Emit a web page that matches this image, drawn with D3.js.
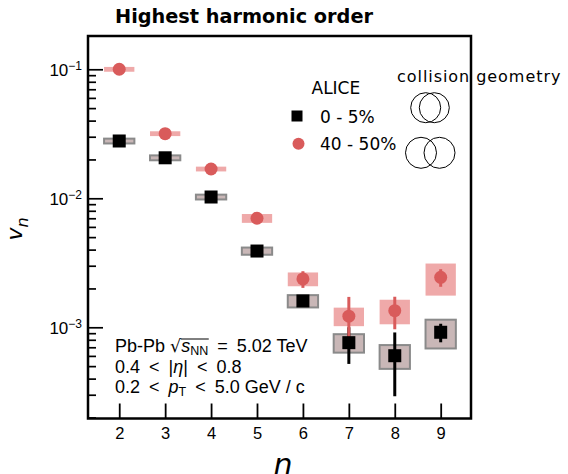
<!DOCTYPE html>
<html>
<head>
<meta charset="utf-8">
<script src="https://cdn.jsdelivr.net/npm/d3@7"></script>
<style>
  body { margin: 0; background: #fff; }
  svg { display: block; }
  text { white-space: pre; }
</style>
</head>
<body>
<script>
// Flow harmonics v_n versus harmonic order n, Pb-Pb at 5.02 TeV
const harmonics = [2, 3, 4, 5, 6, 7, 8, 9];

// 0-5% centrality
const central     = [0.0278, 0.0206, 0.01023, 0.0039, 0.0016, 0.00076, 0.000602, 0.000915];
const centralStat = [0.0002, 0.00015, 0.0001, 0.00005, 0.0001, 0.00024, 0.00031, 0.00015];
const centralSys  = [0.0012, 0.0009, 0.00044, 0.00025, 0.000175, 0.000124, 0.000126, 0.00023];

// 40-50% centrality
const peripheral     = [0.1, 0.0317, 0.01687, 0.0070, 0.00237, 0.00122, 0.001345, 0.00244];
const peripheralStat = [0.0006, 0.0002, 0.0001, 0.00008, 0.00035, 0.0005, 0.00038, 0.00038];
const peripheralSys  = [0.0043, 0.00136, 0.00072, 0.00055, 0.00029, 0.0002, 0.00029, 0.00068];

const seriesLabels = ["0 - 5%", "40 - 50%"];
const titleText = "Highest harmonic order";
const experiment = "ALICE";
const geometryLabel = "collision geometry";

const W = 568, H = 474;
const frame = { left: 88, right: 471, top: 36, bottom: 418.5 };
const boxHalf = 0.33;

const colRed = "#d95b5b", colRedBox = "#efa9a9";
const colBlackBox = "#c9b7b7", colBlackBoxEdge = "#8a8a8a";

const svg = d3.select("body").append("svg").attr("width", W).attr("height", H);

const x = d3.scaleLinear().domain([1.32, 9.66]).range([frame.left, frame.right]);
const y = d3.scaleLog().domain([1.963e-4, 0.1811]).range([frame.bottom, frame.top]);

// x axis: inward ticks at each harmonic
svg.append("g")
  .attr("transform", `translate(0,${frame.bottom})`)
  .call(d3.axisBottom(x).tickValues(harmonics).tickSize(-15).tickPadding(9).tickFormat(d3.format("d")))
  .call(g => g.select(".domain").remove())
  .call(g => g.selectAll("line").attr("stroke", "#000").attr("stroke-width", 1.8))
  .call(g => g.selectAll("text").attr("font-family", "Liberation Sans").attr("font-size", 16.5).attr("fill", "#000"));

// y axis: log scale, long ticks at decades, short minor ticks
const isDecade = d => Math.abs(Math.log10(d) - Math.round(Math.log10(d))) < 1e-6;
const yAxisG = svg.append("g")
  .attr("transform", `translate(${frame.left},0)`)
  .call(d3.axisLeft(y).tickValues(y.ticks()).tickSize(-15).tickFormat(""))
  .call(g => g.select(".domain").remove());
yAxisG.selectAll(".tick line")
  .attr("stroke", "#000").attr("stroke-width", 1.7)
  .attr("x2", d => isDecade(d) ? 15 : 8);
yAxisG.selectAll(".tick text").remove();
yAxisG.selectAll(".tick").filter(d => isDecade(d))
  .append("text")
  .attr("x", -6).attr("y", 6)
  .attr("text-anchor", "end")
  .attr("font-family", "Liberation Sans").attr("font-size", 17).attr("fill", "#000")
  .text("10")
  .append("tspan")
  .attr("dy", -5.5).attr("font-size", 12)
  .text(d => "\u2212" + Math.abs(Math.round(Math.log10(d))));

// data
function rowsOf(vals, stat, sys) {
  return harmonics.map((n, i) => ({ n, v: vals[i], stat: stat[i], sys: sys[i] }));
}
const cRows = rowsOf(central, centralStat, centralSys);
const pRows = rowsOf(peripheral, peripheralStat, peripheralSys);

const plot = svg.append("g");

function sysBoxes(rows, fill, stroke) {
  plot.append("g").selectAll("rect").data(rows).join("rect")
    .attr("x", d => x(d.n - boxHalf))
    .attr("width", d => x(d.n + boxHalf) - x(d.n - boxHalf))
    .attr("y", d => y(d.v + d.sys))
    .attr("height", d => y(d.v - d.sys) - y(d.v + d.sys))
    .attr("fill", fill)
    .attr("stroke", stroke || "none")
    .attr("stroke-width", stroke ? 2 : 0);
}
function statBars(rows, color) {
  plot.append("g").selectAll("line").data(rows).join("line")
    .attr("x1", d => x(d.n)).attr("x2", d => x(d.n))
    .attr("y1", d => y(d.v + d.stat)).attr("y2", d => y(d.v - d.stat))
    .attr("stroke", color).attr("stroke-width", 3);
}

sysBoxes(pRows, colRedBox);
sysBoxes(cRows, colBlackBox, colBlackBoxEdge);
statBars(cRows, "#000");
statBars(pRows, colRed);

const sq = 13;
plot.append("g").selectAll("rect").data(cRows).join("rect")
  .attr("x", d => x(d.n) - sq / 2).attr("y", d => y(d.v) - sq / 2)
  .attr("width", sq).attr("height", sq).attr("fill", "#000");
plot.append("g").selectAll("circle").data(pRows).join("circle")
  .attr("cx", d => x(d.n)).attr("cy", d => y(d.v)).attr("r", 6.5).attr("fill", colRed);

// frame
svg.append("rect")
  .attr("x", frame.left).attr("y", frame.top)
  .attr("width", frame.right - frame.left).attr("height", frame.bottom - frame.top)
  .attr("fill", "none").attr("stroke", "#000").attr("stroke-width", 2.5);

// title
svg.append("text").attr("x", 115).attr("y", 23)
  .attr("font-family", "DejaVu Sans").attr("font-weight", "bold").attr("font-size", 19.3)
  .text(titleText);

// axis titles
svg.append("text").attr("x", 283).attr("y", 474.5).attr("text-anchor", "middle")
  .attr("font-family", "DejaVu Sans").attr("font-style", "italic").attr("font-size", 30)
  .text("n");
const yl = svg.append("text")
  .attr("transform", "translate(22,229) rotate(-90)")
  .attr("text-anchor", "middle")
  .attr("font-family", "DejaVu Sans").attr("font-style", "italic").attr("font-size", 22)
  .text("v");
yl.append("tspan").attr("dy", 6).attr("font-size", 16).text("n");

// legend
const leg = svg.append("g").attr("font-family", "DejaVu Sans").attr("font-size", 17);
leg.append("text").attr("x", 311.5).attr("y", 94).text(experiment);
leg.append("rect").attr("x", 291.5).attr("y", 110.5).attr("width", 11).attr("height", 11).attr("fill", "#000");
leg.append("text").attr("x", 320).attr("y", 122.5).text(seriesLabels[0]);
leg.append("circle").attr("cx", 298.5).attr("cy", 143.7).attr("r", 6).attr("fill", colRed);
leg.append("text").attr("x", 320).attr("y", 149.5).text(seriesLabels[1]);

// collision geometry sketch
svg.append("text").attr("x", 397).attr("y", 81.7)
  .attr("font-family", "DejaVu Sans").attr("font-size", 16).attr("letter-spacing", 0.95)
  .text(geometryLabel);
const geo = svg.append("g").attr("fill", "none").attr("stroke", "#000").attr("stroke-width", 1);
[[425.7, 107.7, 15], [434.3, 107.7, 15], [421, 152.8, 15.5], [439.5, 152.8, 15.5]].forEach(c =>
  geo.append("circle").attr("cx", c[0]).attr("cy", c[1]).attr("r", c[2]));

// kinematic annotation, laid out run by run
function runs(g, x0, yBase, parts) {
  let cx = x0;
  parts.forEach(p => {
    const t = g.append("text")
      .attr("x", cx).attr("y", yBase + (p.dy || 0))
      .attr("font-family", p.family || "Liberation Sans")
      .attr("font-size", p.size || 18)
      .attr("font-style", p.italic ? "italic" : "normal")
      .text(p.t);
    p.x0 = cx;
    cx += t.node().getComputedTextLength();
    p.x1 = cx;
  });
  return parts;
}
const lt = "\u2002<\u2002";
const ann = svg.append("g").attr("fill", "#000");
const l1 = runs(ann, 115, 351.7, [
  { t: "Pb-Pb " },
  { t: "\u221A", family: "DejaVu Sans", size: 17.5 },
  { t: "s", italic: true },
  { t: "NN", size: 12.5, dy: 3 },
  { t: "\u2002=\u20025.02 TeV" }
]);
ann.append("line")
  .attr("x1", l1[1].x1 - 0.5).attr("x2", l1[3].x1 + 0.5)
  .attr("y1", 339).attr("y2", 339)
  .attr("stroke", "#000").attr("stroke-width", 1);
runs(ann, 115, 372.7, [
  { t: "0.4" + lt + "|" },
  { t: "\u03B7", italic: true },
  { t: "|" + lt + "0.8" }
]);
runs(ann, 115, 392.5, [
  { t: "0.2" + lt },
  { t: "p", italic: true },
  { t: "T", size: 12.5, dy: 3 },
  { t: lt + "5.0 GeV / c" }
]);
</script>
</body>
</html>
